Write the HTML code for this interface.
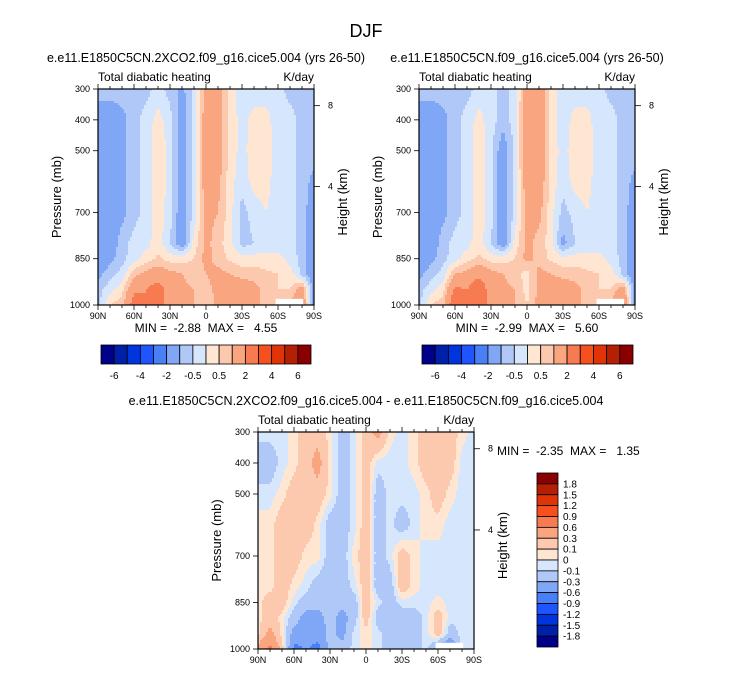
<!DOCTYPE html>
<html><head><meta charset="utf-8"><style>
body{margin:0;background:#fff;}
svg text{font-family:"Liberation Sans",sans-serif;fill:#000;}
</style></head><body>
<svg id="fig" width="733" height="673" viewBox="0 0 733 673" xmlns="http://www.w3.org/2000/svg">
<text x="366" y="37" font-size="18" text-anchor="middle">DJF</text>
<g id="root"></g>
</svg>
<script>
// ---- data ----
const lats = [90,80,70,60,50,40,30,20,10,0,-10,-20,-30,-40,-50,-60,-70,-80,-90];
const levels = [300,400,500,600,700,800,850,900,950,1000];
const latTickLabels = ["90N","60N","30N","0","30S","60S","90S"];
const latTicks = [90,60,30,0,-30,-60,-90];
const presTicks = [300,400,500,700,850,1000];
const heightTicks = [8,4];
const heightTickPres = [354,616];
const boundsAB = [-6,-5,-4,-3,-2,-1,-0.5,0,0.5,1,2,3,4,5,6];
const boundsC = [-1.8,-1.5,-1.2,-0.9,-0.6,-0.3,-0.1,0,0.1,0.3,0.6,0.9,1.2,1.5,1.8];
const cbLabelsAB = ["-6","-4","-2","-0.5","0.5","2","4","6"];
const cbLabelsC = ["1.8","1.5","1.2","0.9","0.6","0.3","0.1","0","-0.1","-0.3","-0.6","-0.9","-1.2","-1.5","-1.8"];
const colors = ["#00008a","#0020a8","#0034dc","#1f55ff","#4a80f5","#80a6f6","#b0c8f8","#d6e6fc","#ffe6d2","#fcc8ae","#f8a580","#f87a50","#f5501e","#e03408","#b52005","#8a0000"];
const fieldA = [
[-0.7,-0.7,-0.7,-0.7,-0.7,-0.3,-0.7,-1.2,-0.3,1.2,1.5,0.3,-0.3,-0.3,-0.3,-0.3,-0.7,-0.7,-0.7],
[-1.5,-1.5,-1.2,-0.7,-0.3,0.2,-0.3,-1.5,-0.3,1.5,1.5,0.3,-0.2,0.2,0.2,-0.3,-0.3,-0.7,-0.7],
[-1.5,-1.5,-1.2,-0.7,-0.3,0.4,-0.2,-1.5,-0.3,1.5,1.5,0.3,-0.2,0.3,0.3,-0.3,-0.3,-0.7,-0.7],
[-1.5,-1.5,-1.2,-0.7,-0.3,0.4,-0.2,-1.5,-0.3,1.5,1.2,0.2,-0.3,0.2,0.2,-0.3,-0.3,-0.7,-1.2],
[-1.5,-1.5,-1.2,-0.7,-0.3,0.3,-0.3,-1.5,-0.3,1.2,1.0,0.2,-0.7,-0.3,0,-0.3,-0.3,-0.7,-1.5],
[-1.5,-1.5,-0.7,-0.3,-0.2,0.3,-0.5,-1.5,0.2,1.2,0.7,0.2,-0.7,-0.5,-0.3,-0.3,-0.3,-0.7,-1.5],
[-1.5,-1.2,-0.7,-0.2,0.2,0.6,0.3,0.3,0.5,1.2,0.8,0.4,0.2,0.2,0.2,0.2,-0.2,-0.7,-1.5],
[-1.2,-0.7,-0.3,0.8,1.2,1.5,1.2,1.0,0.7,1.0,1.2,1.0,0.8,0.8,0.6,0.5,0.3,-0.7,-1.5],
[-0.7,-0.2,0.3,1.8,2.0,2.5,1.5,1.2,1.0,0.8,1.2,1.5,1.5,1.2,0.8,0.5,0.5,1.5,-1.5],
[-0.7,0.5,0.8,2.5,2.0,2.5,1.5,1.2,1.0,0.5,1.2,1.5,1.5,1.2,0.8,0.5,1.0,2.0,-1.5]];
const fieldB = [
[-0.7,-0.7,-0.7,-0.7,-0.7,-0.3,-0.3,-0.7,-0.3,1.5,1.8,0.3,-0.3,-0.3,-0.3,-0.3,-0.7,-0.7,-0.7],
[-1.5,-1.5,-1.2,-0.7,-0.3,0.2,-0.3,-0.7,-0.3,1.8,1.8,0.3,-0.3,0.2,0.2,-0.3,-0.3,-0.7,-0.7],
[-1.5,-1.5,-1.2,-0.7,-0.3,0.4,-0.3,-1.5,-0.3,1.8,1.8,0.3,-0.2,0.3,0.3,-0.3,-0.3,-0.7,-0.7],
[-1.5,-1.5,-1.2,-0.7,-0.3,0.4,-0.3,-1.5,-0.3,1.5,1.5,0.3,-0.3,0.2,0.2,-0.3,-0.3,-0.7,-1.2],
[-1.5,-1.5,-1.2,-0.7,-0.3,0.3,-0.3,-1.5,-0.3,1.2,1.2,0.2,-0.7,-0.3,0,-0.3,-0.3,-0.7,-1.5],
[-1.5,-1.5,-0.7,-0.3,-0.2,0.3,-0.5,-1.5,0.2,1.2,0.8,0.2,-1.2,-0.5,-0.3,-0.3,-0.3,-0.7,-1.5],
[-1.5,-1.2,-0.7,-0.2,0.3,0.6,0.3,0.3,0.5,1.2,0.8,0.4,0.2,0.2,0.2,0.2,-0.2,-0.7,-1.5],
[-1.2,-0.7,-0.3,1.0,1.2,1.8,1.2,1.0,0.7,0.3,1.2,1.0,0.8,0.8,0.6,0.5,0.3,-0.7,-1.5],
[-0.7,-0.2,0.3,2.2,2.0,2.8,1.5,1.2,1.0,0.3,1.2,1.5,1.5,1.2,0.8,0.5,0.5,1.5,-1.5],
[-0.7,0.5,0.8,3.0,2.0,3.0,1.5,1.2,1.0,0.5,1.2,1.5,1.5,1.2,0.8,0.5,1.0,2.5,-1.5]];
const fieldC = [
[-0.05,-0.05,-0.05,0.05,0.2,0.2,0.05,-0.2,-0.05,0.2,0.4,0.05,-0.05,0.05,0.2,0.2,0.2,0.05,-0.05],
[-0.2,-0.2,-0.05,0.05,0.2,0.4,0.05,-0.2,-0.05,0.2,-0.05,-0.05,-0.05,0.05,0.2,0.2,0.2,-0.05,-0.05],
[-0.05,-0.05,0.05,0.2,0.2,0.2,0.05,-0.2,-0.05,0.2,-0.2,-0.05,-0.05,-0.05,0.05,0.2,0.05,-0.05,-0.05],
[0.05,0.05,0.2,0.2,0.2,0.05,-0.2,-0.2,-0.05,0.2,-0.2,-0.05,-0.2,-0.05,0.05,0.05,-0.05,-0.05,-0.05],
[0.05,0.05,0.2,0.2,0.05,0.05,-0.2,-0.2,0.05,0.2,-0.2,-0.05,0.2,0.05,-0.05,-0.05,-0.05,-0.05,-0.05],
[0.05,0.05,0.2,0.05,-0.05,-0.2,-0.2,-0.2,-0.05,0.2,-0.2,-0.2,0.2,0.05,-0.05,-0.05,-0.05,-0.05,-0.05],
[0.05,0.2,0.2,-0.05,-0.2,-0.2,-0.2,-0.2,-0.2,0.2,-0.05,-0.2,-0.05,-0.05,-0.05,0.05,-0.05,-0.05,-0.05],
[0.05,0.2,0.05,-0.2,-0.4,-0.4,-0.2,-0.4,-0.2,0.2,-0.2,-0.2,-0.2,-0.2,-0.05,0.2,-0.05,-0.05,-0.05],
[0.05,0.4,0.05,-0.4,-0.4,-0.5,-0.2,-0.4,-0.05,0.05,-0.05,-0.2,-0.2,-0.2,-0.05,0.2,-0.2,-0.05,-0.05],
[0.4,0.7,0.2,-0.7,-0.6,-0.7,-0.2,-0.2,-0.05,0.05,-0.05,-0.2,-0.2,-0.2,-0.05,-0.4,-0.7,-0.05,-0.05]];

const NS="http://www.w3.org/2000/svg";
const root=document.getElementById('root');
function mk(tag,attrs,parent){const e=document.createElementNS(NS,tag);for(const k in attrs)e.setAttribute(k,attrs[k]);(parent||root).appendChild(e);return e;}
function txt(s,x,y,size,anchor,parent){const t=mk('text',{x:x,y:y,'font-size':size,'text-anchor':anchor||'start'},parent);t.textContent=s;return t;}
function sample(f,lat,p){
  let i=0;while(i<lats.length-2&&lat<lats[i+1])i++;
  let j=0;while(j<levels.length-2&&p>levels[j+1])j++;
  const tx=(lats[i]-lat)/(lats[i]-lats[i+1]), ty=(p-levels[j])/(levels[j+1]-levels[j]);
  const a=f[j][i],b=f[j][i+1],c=f[j+1][i],d=f[j+1][i+1];
  return (a*(1-tx)+b*tx)*(1-ty)+(c*(1-tx)+d*tx)*ty;
}
function colorOf(v,bounds){let k=0;while(k<bounds.length&&v>=bounds[k])k++;return colors[k];}

function panel(name,x0,y0,w,h,field,bounds,opt){
  const g=mk('g',{});
  
  
  const xs=lat=>x0+(90-lat)/180*w;
  const ys=p=>y0+(p-300)/700*h;
  const cell=2;
  const fg=mk('g',{'shape-rendering':'crispEdges'},g);
  
  
  for(let py=0;py<h;py+=cell){
    const p=300+(py+cell/2)/h*700;
    let runStart=0,runCol=null;
    for(let px=0;px<=w;px+=cell){
      let col=null;
      if(px<w){const lat=90-(px+cell/2)/w*180;col=colorOf(sample(field,lat,p),bounds);}
      if(col!==runCol){
        if(runCol){const r=mk('rect',{x:x0+runStart,y:y0+py,width:Math.min(px,w)-runStart,height:Math.min(cell,h-py)+0.5,fill:runCol},fg);
          
          }
        runStart=px;runCol=col;
      }
    }
  }
  // missing-data region bottom-right
  mk('rect',{x:xs(-58),y:ys(980),width:xs(-81)-xs(-58),height:ys(1000)-ys(980),fill:'#fff'},g);
  mk('rect',{x:x0,y:y0,width:w,height:h,fill:'none',stroke:'#000','stroke-width':1.2},g);
  // lat ticks
  for(let lat=-90;lat<=90;lat+=10){const major=lat%30===0;
    mk('line',{x1:xs(lat),x2:xs(lat),y1:y0+h,y2:y0+h+(major?5:3),stroke:'#000','stroke-width':0.8},g);
    mk('line',{x1:xs(lat),x2:xs(lat),y1:y0,y2:y0-(major?5:3),stroke:'#000','stroke-width':0.8},g);}
  latTicks.forEach((lat,i)=>{const t=txt(latTickLabels[i],xs(lat),y0+h+14,9,'middle',g);
    
    });
  presTicks.forEach(p=>{mk('line',{x1:x0-5,x2:x0,y1:ys(p),y2:ys(p),stroke:'#000','stroke-width':0.8},g);
    const t=txt(String(p),x0-8,ys(p)+3,9,'end',g);
    
    });
  heightTicks.forEach((hk,i)=>{const y=ys(heightTickPres[i]);
    mk('line',{x1:x0+w,x2:x0+w+6,y1:y,y2:y,stroke:'#000','stroke-width':0.8},g);
    const t=txt(String(hk),x0+w+14,y+3,9,'start',g);
    
    });
  const t1=txt('Total diabatic heating',x0,y0-8,12,'start',g);
  
  
  const t2=txt('K/day',x0+w,y0-8,12,'end',g);
  
  
  const yl=txt('Pressure (mb)',0,0,13,'middle',g);
  yl.setAttribute('transform',`translate(${x0-37},${y0+h/2}) rotate(-90)`);
  
  
  if(opt.heightTitle){const hl=txt('Height (km)',0,0,13,'middle',g);
    hl.setAttribute('transform',`translate(${x0+w+33},${y0+h/2+5}) rotate(-90)`);
    
    }
  if(opt.title){const tt=txt(opt.title,x0+w/2,y0-27,12.5,'middle',g);
    
    }
  if(opt.minmax){const m=txt(opt.minmax,opt.mmx,opt.mmy,12,opt.mma||'middle',g);
    m.setAttribute('white-space','pre');m.style.whiteSpace='pre';
    
    }
}

function hbar(name,x0,y0,w,h){
  const g=mk('g',{});
  
  
  const bw=w/colors.length;
  colors.forEach((c,i)=>{const r=mk('rect',{x:x0+i*bw,y:y0,width:bw,height:h,fill:c,stroke:'#000','stroke-width':0.8},g);
    
    });
  cbLabelsAB.forEach((s,i)=>{const t=txt(s,x0+bw*(2*i+1),y0+h+15,10,'middle',g);
    
    });
}
function vbar(name,x0,y0,w,h){
  const g=mk('g',{});
  
  
  const bh=h/colors.length;
  colors.slice().reverse().forEach((c,i)=>{const r=mk('rect',{x:x0,y:y0+i*bh,width:w,height:bh,fill:c,stroke:'#000','stroke-width':0.8},g);
    
    });
  cbLabelsC.forEach((s,i)=>{const t=txt(s,x0+w+5,y0+bh*(i+1)+3.5,10,'start',g);
    
    });
}

panel('panel-2xco2',98,89,216,216,fieldA,boundsAB,{title:'e.e11.E1850C5CN.2XCO2.f09_g16.cice5.004 (yrs 26-50)',heightTitle:true,minmax:'MIN =  -2.88  MAX =   4.55',mmx:206,mmy:332});
panel('panel-control',419,89,216,216,fieldB,boundsAB,{title:'e.e11.E1850C5CN.f09_g16.cice5.004 (yrs 26-50)',heightTitle:true,minmax:'MIN =  -2.99  MAX =   5.60',mmx:527,mmy:332});
panel('panel-difference',258,432,216,217,fieldC,boundsC,{heightTitle:true,minmax:'MIN =  -2.35  MAX =   1.35',mmx:497,mmy:455,mma:'start'});
const bt=txt('e.e11.E1850C5CN.2XCO2.f09_g16.cice5.004 - e.e11.E1850C5CN.f09_g16.cice5.004',366,405,12.5,'middle');


hbar('colorbar-left',101,345,210,19);
hbar('colorbar-right',422,345,211,19);
vbar('colorbar-difference',537,473,21,174);
</script>
</body></html>
